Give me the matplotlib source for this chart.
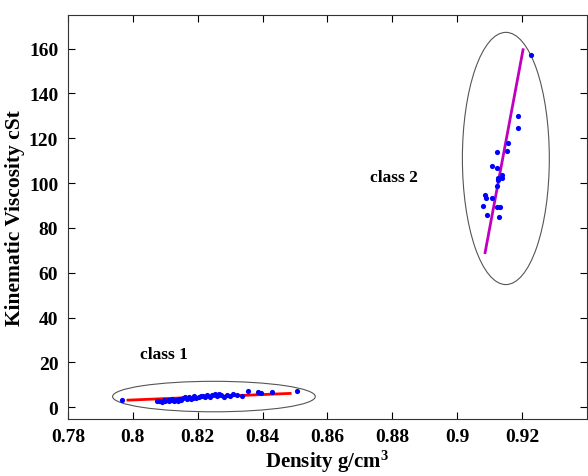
import matplotlib
matplotlib.use("Agg")
import matplotlib.pyplot as plt
from matplotlib.patches import Ellipse

# Class 1 points (density g/cm3, viscosity cSt)
c1_density = [0.7968, 0.8075, 0.8082, 0.8090, 0.8095, 0.8100, 0.8108, 0.8112, 0.8118,
              0.8122, 0.8128, 0.8133, 0.8138, 0.8143, 0.8150, 0.8155, 0.8160, 0.8166,
              0.8172, 0.8178, 0.8185, 0.8190, 0.8196, 0.8203, 0.8210, 0.8217, 0.8224,
              0.8230, 0.8238, 0.8245, 0.8252, 0.8258, 0.8265, 0.8272, 0.8280, 0.8290,
              0.8300, 0.8310, 0.8322, 0.8335, 0.8354, 0.8385, 0.8395, 0.8430, 0.8505]
c1_visc = [3.1, 2.6, 2.9, 2.5, 3.1, 2.7, 3.3, 2.8, 3.2,
           3.6, 2.9, 3.4, 3.0, 3.8, 3.3, 4.2, 4.4, 3.9,
           4.7, 3.5, 4.3, 4.9, 4.0, 4.6, 5.2, 5.1, 4.5,
           5.4, 4.8, 5.6, 6.0, 5.0, 5.8, 5.3, 4.8, 5.5,
           4.9, 5.9, 5.3, 5.1, 7.1, 6.7, 6.6, 6.7, 7.1]

# Class 2 points
c2_density = [0.9228, 0.9186, 0.9187, 0.9156, 0.9155, 0.9123, 0.9108, 0.9122, 0.9139,
              0.9126, 0.9137, 0.9127, 0.9122, 0.9086, 0.9090, 0.9107, 0.9079, 0.9122,
              0.9131, 0.9091, 0.9130]
c2_visc = [157.3, 129.8, 124.7, 117.9, 114.4, 114.0, 107.6, 106.8, 103.7,
           102.5, 102.4, 101.5, 98.5, 94.6, 93.4, 93.4, 89.6, 89.3,
           89.4, 86.0, 84.7]

# Fitted lines (endpoints)
fit1_x = [0.7985, 0.8485]
fit1_y = [3.2, 6.2]
fit2_x = [0.9086, 0.9203]
fit2_y = [69.0, 159.5]

# Ellipses: center x, center y, width, height
ell1 = (0.8250, 4.8, 0.0625, 13.6)
ell2 = (0.9150, 111.0, 0.0268, 112.5)

xticks = [0.78, 0.80, 0.82, 0.84, 0.86, 0.88, 0.90, 0.92]
xticklabels = ["0.78", "0.8", "0.82", "0.84", "0.86", "0.88", "0.9", "0.92"]
yticks = [0, 20, 40, 60, 80, 100, 120, 140, 160]

plt.rcParams['font.family'] = ['Liberation Serif', 'DejaVu Serif']
plt.rcParams['font.weight'] = 'bold'
plt.rcParams['mathtext.fontset'] = 'custom'
plt.rcParams['mathtext.rm'] = 'Liberation Serif:bold'
plt.rcParams['mathtext.bf'] = 'Liberation Serif:bold'
plt.rcParams['mathtext.it'] = 'Liberation Serif:bold:italic'

fig = plt.figure(figsize=(5.88, 4.77), dpi=100)
ax = fig.add_axes([0.1156, 0.1205, 0.8826, 0.846])

for (cx, cy, w, h) in [ell1, ell2]:
    ax.add_patch(Ellipse((cx, cy), w, h, fill=False, edgecolor='#555555', lw=0.8))

ax.plot(fit1_x, fit1_y, color='red', lw=2)
ax.plot(fit2_x, fit2_y, color='#c000c0', lw=2)
ax.scatter(c1_density, c1_visc, s=14, color='blue', zorder=3, linewidths=0)
ax.scatter(c2_density, c2_visc, s=14, color='blue', zorder=3, linewidths=0)

ax.text(0.8022, 24, "class 1", fontsize=12.5, fontweight='bold', va='center', ha='left')
ax.text(0.8732, 102.7, "class 2", fontsize=12.5, fontweight='bold', va='center', ha='left')

ax.set_xlim(0.78, 0.94)
ax.set_ylim(-5, 175)
ax.set_xticks(xticks)
ax.set_xticklabels(xticklabels)
ax.set_yticks(yticks)
ax.tick_params(direction='in', top=True, right=True, length=5, width=0.8,
               labelsize=14, pad=7)
for lab in ax.get_xticklabels() + ax.get_yticklabels():
    lab.set_fontweight('bold')
for s in ax.spines.values():
    s.set_linewidth(0.8)
    s.set_color('#333333')

ax.set_xlabel(r"Density g/cm$^\mathrm{3}$", fontsize=15, fontweight='bold', labelpad=2)
ax.set_ylabel("Kinematic Viscosity cSt", fontsize=15.5, fontweight='bold', labelpad=3)

fig.savefig("out.png", dpi=100)
